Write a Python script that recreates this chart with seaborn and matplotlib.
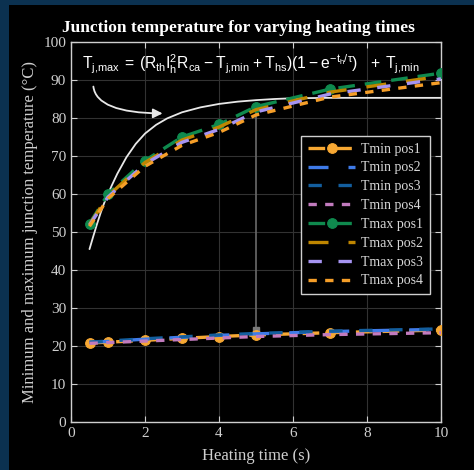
import numpy as np
import pandas as pd
import matplotlib
matplotlib.use('Agg')
import matplotlib.pyplot as plt
import seaborn as sns
from matplotlib.patches import Rectangle, FancyArrowPatch

# heating times (s)
heat_time = [0.5, 1, 2, 3, 4, 5, 7, 10]

tmin_pos1 = [20.8, 21.0, 21.5, 22.0, 22.5, 22.9, 23.5, 24.2]
tmin_pos2 = [21.0, 21.2, 21.8, 22.3, 22.8, 23.2, 23.8, 24.4]
tmin_pos3 = [21.0, 21.3, 21.9, 22.4, 22.9, 23.3, 23.9, 24.5]
tmin_pos4 = [20.7, 20.9, 21.3, 21.7, 22.1, 22.5, 23.0, 23.5]

tmax_pos1 = [52.2, 60.0, 68.8, 75.0, 78.3, 83.0, 87.6, 91.8]
tmax_pos2 = [52.0, 59.5, 68.3, 74.2, 77.6, 82.2, 86.8, 91.0]
tmax_pos3 = [51.8, 59.2, 67.9, 73.6, 77.0, 81.6, 86.3, 90.3]
tmax_pos4 = [51.5, 58.8, 67.3, 72.8, 76.2, 80.8, 85.5, 89.3]

# theoretical curve (white)
model_t = [0.5, 0.6, 0.7, 0.8, 0.9, 1.0, 1.1, 1.25, 1.5, 1.75, 2.0, 2.3, 2.6,
           3.0, 3.5, 4.0, 4.5, 5.0, 5.5, 6.0, 7.0, 10.0]
model_T = [45.5, 48.8, 52.0, 55.0, 57.7, 60.0, 62.2, 65.3, 69.7, 73.2, 75.9, 78.2, 79.9,
           81.5, 82.8, 83.7, 84.3, 84.7, 85.0, 85.2, 85.3, 85.3]

labels = ['Tmin pos1', 'Tmin pos2', 'Tmin pos3', 'Tmin pos4',
          'Tmax pos1', 'Tmax pos2', 'Tmax pos3', 'Tmax pos4']
series = [tmin_pos1, tmin_pos2, tmin_pos3, tmin_pos4,
          tmax_pos1, tmax_pos2, tmax_pos3, tmax_pos4]
colors = ['#F7A833', '#3F7BE8', '#135E9E', '#C27BBE',
          '#0F8A4E', '#BF8600', '#A694F2', '#F59E28']
styles = [(0, (5, 3)), (0, (6, 6)), (0, (4, 5)), (0, (2.5, 2.5)),
          (0, (5, 3)), (0, (6, 6)), (0, (4, 5)), (0, (2.5, 2.5))]
markers = ['o', None, None, None, 'o', None, None, None]

sns.set_style('dark')
plt.rcParams['font.family'] = ['Liberation Serif', 'DejaVu Serif']

fig = plt.figure(figsize=(4.74, 4.70), dpi=100, facecolor='#0b3150')
fig.patches.append(Rectangle((9 / 474, 0), 1, 1 - 5 / 470, transform=fig.transFigure,
                             facecolor='black', edgecolor='none', zorder=-5))

ax = fig.add_axes([71 / 474, 48 / 470, 370 / 474, 380 / 470])
ax.set_zorder(2)
ax.set_facecolor('black')

ax.plot([5, 5], [23.5, 82.5], color='#6a6a6a', lw=1.2, zorder=1)
ax.plot([5], [24.3], marker='s', ms=4, color='#7a7a7a', zorder=1)

sns.lineplot(x=model_t, y=model_T, ax=ax, color='#e8e8e8', lw=1.3, zorder=2)

for vals, lab, col, ls, mk in zip(series, labels, colors, styles, markers):
    sns.lineplot(x=heat_time, y=vals, ax=ax, color=col, lw=2.4, linestyle=ls,
                 marker=mk, markersize=7, markeredgecolor=col, label=lab, zorder=3)

ax.set_xlim(0, 10)
ax.set_ylim(0, 100)
ax.set_xticks(np.arange(0, 11, 2))
ax.set_yticks(np.arange(0, 101, 10))
ax.grid(True, color='#323232', lw=0.8)
ax.tick_params(colors='#cfcfcf', labelsize=11, direction='in', length=4,
               top=True, right=True, bottom=True, left=True)
for sp in ax.spines.values():
    sp.set_color('#cfcfcf')
    sp.set_linewidth(1)

ax.set_xlabel('Heating time (s)', color='#cfcfcf', fontsize=12, labelpad=6)
ax.set_ylabel('Minimum and maximum junction temperature (\u00b0C)', color='#cfcfcf',
              fontsize=12, labelpad=4)
fig.text(238 / 474, 1 - 28 / 470, 'Junction temperature for varying heating times',
         color='white', fontsize=12.5, fontweight='bold', ha='center', va='center')

ax.text(0.3, 94.2,
        r'$\mathregular{T_{j{,}max}\,=\,(R_{th}I_h^2R_{ca}-T_{j{,}min}+T_{hs})(1-e^{-t_h/\tau})\ \ +\,T_{j{,}min}}$',
        color='white', fontsize=11.3, family=['Liberation Sans', 'DejaVu Sans'],
        ha='left', va='center')

arrow = FancyArrowPatch((0.6, 89), (2.55, 81.2),
                        connectionstyle='angle3,angleA=-90,angleB=0',
                        arrowstyle='-|>', mutation_scale=14, color='#e8e8e8', lw=1.3)
ax.add_patch(arrow)

leg = ax.legend(loc='upper left', bbox_to_anchor=(0.603, 0.772), frameon=True,
                fontsize=10, handlelength=3.4, labelspacing=0.42, borderpad=0.5,
                handletextpad=0.4, fancybox=False)
leg.get_frame().set_facecolor('black')
leg.get_frame().set_edgecolor('#cfcfcf')
leg.get_frame().set_alpha(1)
for t in leg.get_texts():
    t.set_color('#d8d8d8')

fig.savefig('out.png', dpi=100, facecolor=fig.get_facecolor())
